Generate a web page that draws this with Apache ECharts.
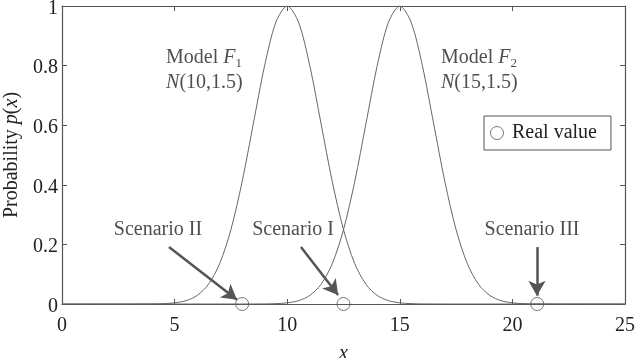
<!DOCTYPE html>
<html>
<head>
<meta charset="utf-8">
<script src="https://cdn.jsdelivr.net/npm/echarts@6.0.0/dist/echarts.min.js"></script>
<style>
  html, body { margin: 0; padding: 0; background: #fff; }
  #chart { width: 640px; height: 358px; }
</style>
</head>
<body>
<div id="chart"></div>
<script>
// x samples, step 0.5 from 0 to 25
var xs = [];
for (var k = 0; k <= 50; k++) { xs.push(k / 2); }

// Model F1 ~ N(10,1.5)
var f1 = [0, 0, 0, 0, 0, 0, 0,
    0.0001, 0.0003, 0.0012, 0.0039, 0.0111, 0.0286, 0.0657, 0.1353, 0.2494, 0.4111, 0.6065, 0.8007, 0.9460,
    1,
    0.9460, 0.8007, 0.6065, 0.4111, 0.2494, 0.1353, 0.0657, 0.0286, 0.0111, 0.0039, 0.0012, 0.0003, 0.0001,
    0, 0, 0, 0, 0, 0, 0, 0, 0, 0, 0, 0, 0, 0, 0, 0, 0];

// Model F2 ~ N(15,1.5)
var f2 = [0, 0, 0, 0, 0, 0, 0, 0, 0, 0, 0, 0, 0, 0, 0, 0, 0,
    0.0001, 0.0003, 0.0012, 0.0039, 0.0111, 0.0286, 0.0657, 0.1353, 0.2494, 0.4111, 0.6065, 0.8007, 0.9460,
    1,
    0.9460, 0.8007, 0.6065, 0.4111, 0.2494, 0.1353, 0.0657, 0.0286, 0.0111, 0.0039, 0.0012, 0.0003, 0.0001,
    0, 0, 0, 0, 0, 0, 0];

// real values (circles on the x axis)
var realX = [8, 12.5, 21.1];
var scenarioNames = ['Scenario II', 'Scenario I', 'Scenario III'];

var xTicks = [0, 5, 10, 15, 20, 25];
var yTicks = [0, 0.2, 0.4, 0.6, 0.8, 1];

// annotation anchors, in data units
var scenarioLabelPos = [[4.26, 0.248], [10.26, 0.248], [20.87, 0.248]];
var arrowFrom = [[4.75, 0.191], [10.61, 0.191], [21.09, 0.191]];
var arrowTo = [[7.77, 0.014], [12.26, 0.030], [21.09, 0.028]];
var modelLabelPos = [[4.62, 0.785], [16.83, 0.785]];

var FONT = '"Liberation Serif", "Times New Roman", serif';
var INK = '#222';
var AXIS = '#555';

function zip(a, b) {
    var out = [];
    for (var i = 0; i < a.length; i++) { out.push([a[i], b[i]]); }
    return out;
}

var myChart = echarts.init(document.getElementById('chart'));

var arrowLines = [];
for (var i = 0; i < arrowFrom.length; i++) {
    arrowLines.push([{ coord: arrowFrom[i] }, { coord: arrowTo[i] }]);
}

var baseAxisX = {
    type: 'value', min: xTicks[0], max: xTicks[xTicks.length - 1], interval: 5,
    axisLine: { onZero: false, lineStyle: { color: AXIS, width: 1.2 } },
    axisTick: { inside: true, length: 5, lineStyle: { color: AXIS } },
    splitLine: { show: false }
};
var baseAxisY = {
    type: 'value', min: yTicks[0], max: yTicks[yTicks.length - 1], interval: 0.2,
    axisLine: { onZero: false, lineStyle: { color: AXIS, width: 1.2 } },
    axisTick: { inside: true, length: 5, lineStyle: { color: AXIS } },
    splitLine: { show: false }
};

var modelRich = {
    t: { fontFamily: FONT, fontSize: 20, color: INK, lineHeight: 25 },
    i: { fontFamily: FONT, fontSize: 20, color: INK, fontStyle: 'italic', lineHeight: 25 },
    s: { fontFamily: FONT, fontSize: 13, color: INK, lineHeight: 14, verticalAlign: 'bottom' }
};

var option = {
    animation: false,
    backgroundColor: '#fff',
    grid: { left: 62, right: 15, top: 6, bottom: 54, outerBoundsMode: 'none', containLabel: false },
    legend: {
        data: ['Real value'],
        left: 484, top: 116,
        padding: [7, 14, 7, 6],
        itemWidth: 20, itemHeight: 13,
        icon: 'circle',
        itemStyle: { color: '#fff', borderColor: AXIS, borderWidth: 1 },
        borderColor: AXIS, borderWidth: 1,
        textStyle: { fontFamily: FONT, fontSize: 20, color: INK },
        selectedMode: false
    },
    xAxis: [
        Object.assign({}, baseAxisX, {
            position: 'bottom',
            name: 'x', nameLocation: 'middle', nameGap: 40,
            nameTextStyle: { fontFamily: FONT, fontSize: 20, fontStyle: 'italic', color: INK },
            axisLabel: { fontFamily: FONT, fontSize: 20, color: INK, margin: 12 }
        }),
        Object.assign({}, baseAxisX, { position: 'top', axisLabel: { show: false } })
    ],
    yAxis: [
        Object.assign({}, baseAxisY, {
            position: 'left',
            name: '{t|Probability }{i|p}{t|(}{i|x}{t|)}', nameLocation: 'middle', nameGap: 38,
            nameTextStyle: {
                fontFamily: FONT, fontSize: 20, color: INK,
                rich: {
                    t: { fontFamily: FONT, fontSize: 20, color: INK },
                    i: { fontFamily: FONT, fontSize: 20, color: INK, fontStyle: 'italic' }
                }
            },
            axisLabel: {
                fontFamily: FONT, fontSize: 20, color: INK, margin: 4,
                formatter: function (v) { return '{v|' + v + '}'; },
                rich: { v: { fontFamily: FONT, fontSize: 20, color: INK, padding: [5, 0, 0, 0] } }
            }
        }),
        Object.assign({}, baseAxisY, { position: 'right', axisLabel: { show: false } })
    ],
    series: [
        {
            name: 'Model F1', type: 'line', data: zip(xs, f1),
            showSymbol: false, smooth: 0.3,
            lineStyle: { color: '#666', width: 1 },
            markLine: {
                silent: true, symbol: ['none', 'arrow'], symbolSize: [13, 15],
                label: { show: false },
                lineStyle: { color: '#555', width: 2.5, type: 'solid' },
                data: arrowLines
            }
        },
        {
            name: 'Model F2', type: 'line', data: zip(xs, f2),
            showSymbol: false, smooth: 0.3,
            lineStyle: { color: '#666', width: 1 }
        },
        {
            name: 'Real value', type: 'scatter', z: 5,
            data: realX.map(function (v) { return [v, 0]; }),
            symbol: 'circle', symbolSize: 13,
            itemStyle: { color: 'rgba(255,255,255,0)', borderColor: AXIS, borderWidth: 1 }
        },
        {
            name: 'scenario labels', type: 'scatter', silent: true,
            symbolSize: 0,
            data: scenarioLabelPos.map(function (p, i) { return { value: p, name: scenarioNames[i] }; }),
            label: {
                show: true, position: 'inside', formatter: '{b}',
                fontFamily: FONT, fontSize: 20, color: INK
            }
        },
        {
            name: 'model labels', type: 'scatter', silent: true,
            symbolSize: 0,
            data: [
                { value: modelLabelPos[0], label: { formatter: '{t|Model }{i|F}{s|1}\n{i|N}{t|(10,1.5)}' } },
                { value: modelLabelPos[1], label: { formatter: '{t|Model }{i|F}{s|2}\n{i|N}{t|(15,1.5)}' } }
            ],
            label: {
                show: true, position: 'right', distance: 0, align: 'left',
                fontFamily: FONT, fontSize: 20, color: INK,
                rich: modelRich
            }
        }
    ]
};

myChart.setOption(option);
window.addEventListener('resize', function () { myChart.resize(); });
</script>
</body>
</html>
